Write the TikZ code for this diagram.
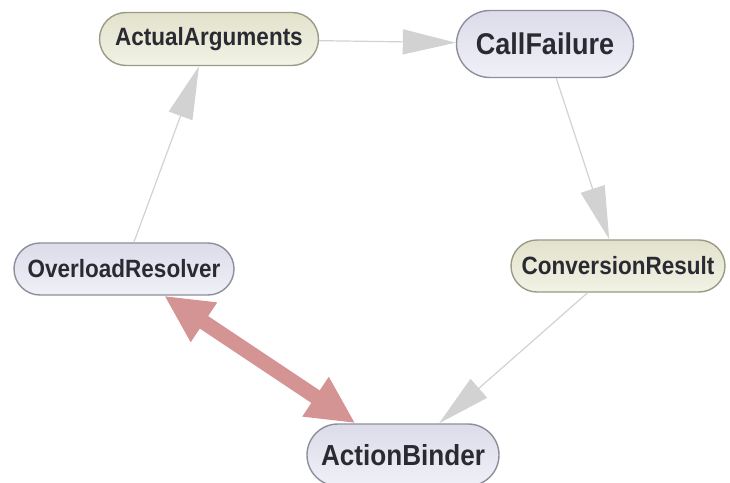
\documentclass[tikz,border=0pt]{standalone}
\usepackage{fontspec}
\setmainfont[FakeStretch=0.9]{Liberation Sans}
\usetikzlibrary{shapes.misc,arrows.meta}

\definecolor{edgegray}{HTML}{D2D2D2}
\definecolor{bindred}{HTML}{D49494}
\definecolor{nodetext}{HTML}{2A2A32}
\definecolor{blueborder}{HTML}{8E8E9C}
\definecolor{yellowborder}{HTML}{9A9A86}
\definecolor{bluetop}{HTML}{DCDCEA}
\definecolor{bluebot}{HTML}{F0F0F8}
\definecolor{yeltop}{HTML}{E2E2CC}
\definecolor{yelbot}{HTML}{F2F2E6}

\tikzset{
  pill/.style={rounded rectangle, line width=1.4bp, inner xsep=4bp, inner ysep=0pt,
    text=nodetext},
  bluepill/.style={pill, draw=blueborder, top color=bluetop, bottom color=bluebot},
  yellowpill/.style={pill, draw=yellowborder, top color=yeltop, bottom color=yelbot},
  depends/.style={draw=edgegray, line width=1.2bp, -{Triangle[length=53bp,width=25bp]}},
  mutual/.style={draw=bindred, line width=15bp,
    {Triangle[length=48bp,width=44bp]}-{Triangle[length=48bp,width=44bp]}},
}

\begin{document}
\begin{tikzpicture}[x=1bp, y=-1bp]
  \useasboundingbox (0,0) rectangle (730,483);

  \node[yellowpill, minimum width=227bp, minimum height=53bp,
        font=\bfseries\fontsize{25bp}{30bp}\selectfont] (aa) at (209,39) {ActualArguments};
  \node[bluepill, minimum width=185bp, minimum height=67bp,
        font=\bfseries\fontsize{30bp}{36bp}\selectfont] (cf) at (545,44) {CallFailure};
  \node[bluepill, minimum width=228bp, minimum height=52bp,
        font=\bfseries\fontsize{25bp}{30bp}\selectfont] (or) at (124,269) {OverloadResolver};
  \node[yellowpill, minimum width=222bp, minimum height=52bp,
        font=\bfseries\fontsize{25bp}{30bp}\selectfont] (cr) at (618,266) {ConversionResult};
  \node[bluepill, minimum width=200bp, minimum height=62bp,
        font=\bfseries\fontsize{29bp}{35bp}\selectfont] (ab) at (403,455) {ActionBinder};

  \draw[depends] (aa) -- (cf);
  \draw[depends] (cf) -- (cr);
  \draw[depends] (or) -- (aa);
  \draw[depends] (cr) -- (ab);
  \draw[mutual] (or) -- (ab);
\end{tikzpicture}
\end{document}
